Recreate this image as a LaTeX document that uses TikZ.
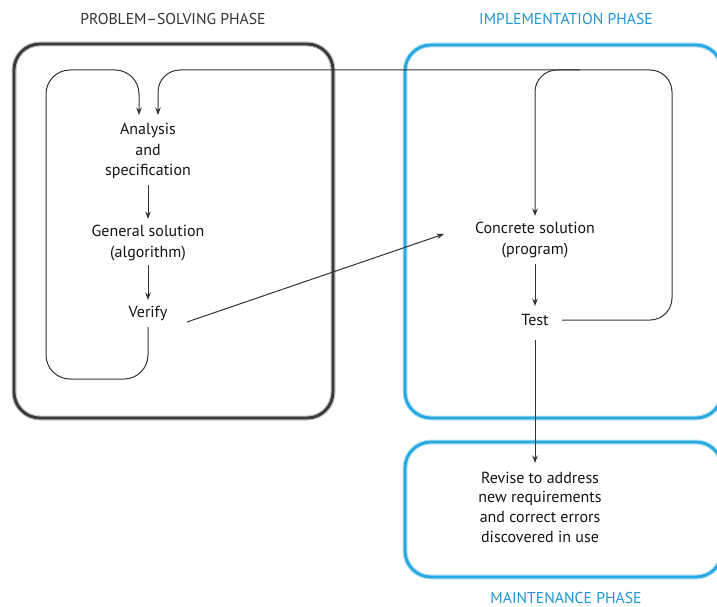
\documentclass[tikz,border=0pt]{standalone}
\usepackage{fontspec}
\setmainfont{PT Sans}
\usetikzlibrary{arrows.meta}
\definecolor{impblue}{RGB}{38,168,225}
\definecolor{titleblue}{RGB}{30,150,212}
\definecolor{boxgray}{RGB}{58,58,58}
\definecolor{linegray}{RGB}{50,50,50}
\begin{document}
\begin{tikzpicture}[x=1pt,y=-1pt,
  txt/.style={align=center,font=\fontsize{16}{20.5}\selectfont,text=black!92,inner sep=3pt},
  revtxt/.style={align=center,font=\fontsize{16}{19.7}\selectfont,text=black!92,inner sep=3pt},
  ttl/.style={font=\fontsize{15.7}{18}\selectfont,inner sep=0pt},
  arr/.style={draw=linegray,line width=1pt,-{Stealth[length=7.5pt,width=5.5pt]}},
  blackbox/.style={draw=boxgray,line width=2.8pt,rounded corners=26pt},
  bluebox/.style={draw=impblue,line width=2.8pt,rounded corners=26pt}]
\useasboundingbox (0,0) rectangle (717,607);
% phase boxes
\draw[draw=black!25,line width=5pt,rounded corners=26pt] (14,44) rectangle (333,418);
\draw[blackbox] (14,44) rectangle (333,418);
\draw[draw=impblue!35,line width=5pt,rounded corners=26pt] (405,45) rectangle (722,418);
\draw[bluebox] (405,45) rectangle (722,418);
\draw[draw=impblue!35,line width=5pt,rounded corners=26pt] (405,442) rectangle (722,577);
\draw[bluebox] (405,442) rectangle (722,577);
% titles
\node[ttl,text=black!80] (t1) at (173,19) {PROBLEM–SOLVING PHASE};
\node[ttl,text=titleblue] (t2) at (566,19) {IMPLEMENTATION PHASE};
\node[ttl,text=titleblue] (t3) at (566,598) {MAINTENANCE PHASE};
% text nodes
\node[txt] (ana) at (148,151) {Analysis\\and\\specification};
\node[txt] (gen) at (148,243) {General solution\\(algorithm)};
\node[txt] (ver) at (148,313) {Verify};
\node[txt] (con) at (535,240) {Concrete solution\\(program)};
\node[txt] (test) at (535,320) {Test};
\node[revtxt] (rev) at (540,507) {Revise to address\\new requirements\\and correct errors\\discovered in use};
% coordinates
\coordinate (anaL) at (139,115);
\coordinate (anaR) at (158,115);
\coordinate (verS) at (148,327);
\coordinate (verE) at (187,322);
\coordinate (conW) at (444,234);
\coordinate (conN) at (535,216);
\coordinate (testE) at (562,320);
\coordinate (testS) at (535,340);
\coordinate (revN) at (535,463);
\coordinate (genN) at (148,219);
\coordinate (anaS) at (148,185);
\coordinate (genS) at (148,265);
\coordinate (verN) at (148,300);
\coordinate (conS) at (535,264);
\coordinate (testN) at (535,306);
% straight arrows
\draw[arr] (anaS) -- (genN);
\draw[arr] (genS) -- (verN);
\draw[arr] (conS) -- (testN);
\draw[arr] (testS) -- (revN);
\draw[arr] (verE) -- (conW);
% loops
\draw[arr,rounded corners=24pt] (verS) -- (148,379) -- (46,379) -- (46,70) -- (139,70) -- (anaL);
\draw[arr,rounded corners=22pt] (testE) -- (672,320) -- (672,70) -- (158,70) -- (anaR);
\draw[arr,rounded corners=22pt] (580,70) -- (535,70) -- (conN);
\end{tikzpicture}
\end{document}
